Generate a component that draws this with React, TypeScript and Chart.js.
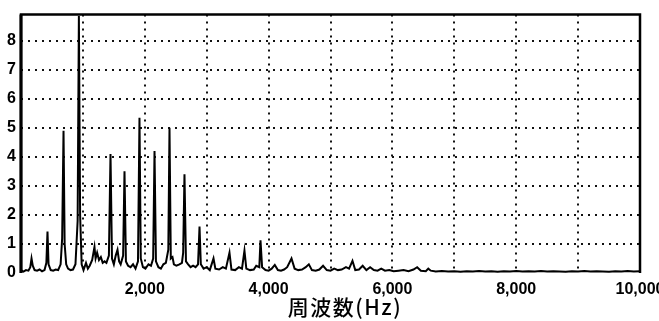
import React, { useEffect, useRef } from 'react';
import { Chart, registerables } from 'chart.js';

Chart.register(...registerables);

// Frequency (Hz) and amplitude
const FREQ_HZ = [
  0, 40, 80, 120, 150, 170, 190, 220, 260, 300, 340, 380, 410, 428, 445, 480, 520, 560, 600, 640,
  665, 687, 705, 730, 760, 800, 840, 880, 915, 935, 955, 980, 1010, 1050, 1080, 1110, 1150, 1187, 1205, 1230,
  1260, 1290, 1320, 1350, 1380, 1420, 1446, 1470, 1500, 1530, 1559, 1585, 1610, 1650, 1672, 1695, 1730, 1770, 1810, 1850,
  1890, 1914, 1935, 1970, 2010, 2060, 2100, 2135, 2157, 2180, 2220, 2260, 2300, 2340, 2380, 2399, 2420, 2447, 2470, 2510,
  2560, 2600, 2620, 2641, 2665, 2700, 2740, 2780, 2820, 2860, 2884, 2905, 2950, 3000, 3050, 3110, 3140, 3200, 3260, 3310,
  3368, 3400, 3460, 3520, 3570, 3610, 3640, 3700, 3760, 3800, 3850, 3869, 3895, 3950, 4000, 4050, 4100, 4150, 4200, 4250,
  4300, 4370, 4420, 4480, 4540, 4600, 4650, 4700, 4760, 4820, 4880, 4940, 5000, 5060, 5120, 5180, 5250, 5300, 5355, 5400,
  5460, 5520, 5580, 5640, 5700, 5760, 5820, 5880, 5950, 6020, 6100, 6180, 6260, 6340, 6400, 6460, 6540, 6580, 6620, 6700,
  6800, 6900, 7000, 7100, 7200, 7300, 7400, 7500, 7600, 7700, 7800, 7900, 8000, 8100, 8200, 8300, 8400, 8500, 8600, 8700,
  8800, 8900, 9000, 9100, 9200, 9300, 9400, 9500, 9600, 9700, 9800, 9900, 10000,
];

const AMPLITUDE = [
  0.1, 0.05, 0.1, 0.08, 0.2, 0.5, 0.25, 0.1, 0.08, 0.12, 0.06, 0.1, 0.35, 1.43, 0.3, 0.1, 0.08, 0.12, 0.1, 0.3,
  1.2, 4.9, 1.0, 0.3, 0.15, 0.1, 0.12, 0.3, 1.8, 8.85, 2.0, 0.3, 0.1, 0.35, 0.15, 0.25, 0.45, 0.9, 0.5, 0.7,
  0.45, 0.55, 0.35, 0.4, 0.35, 0.6, 4.1, 0.5, 0.3, 0.6, 0.8, 0.4, 0.3, 0.6, 3.5, 0.4, 0.25, 0.2, 0.3, 0.15,
  0.4, 5.35, 0.5, 0.2, 0.15, 0.3, 0.25, 0.5, 4.2, 0.4, 0.2, 0.15, 0.3, 0.35, 0.8, 5.0, 0.5, 0.55, 0.3, 0.25,
  0.3, 0.35, 0.7, 3.4, 0.4, 0.3, 0.2, 0.25, 0.2, 0.3, 1.6, 0.3, 0.15, 0.2, 0.1, 0.5, 0.15, 0.12, 0.2, 0.15,
  0.7, 0.12, 0.1, 0.2, 0.15, 0.77, 0.15, 0.1, 0.12, 0.25, 0.2, 1.13, 0.2, 0.1, 0.08, 0.15, 0.28, 0.1, 0.08, 0.12,
  0.2, 0.5, 0.15, 0.1, 0.12, 0.2, 0.3, 0.1, 0.08, 0.12, 0.25, 0.1, 0.08, 0.15, 0.1, 0.12, 0.2, 0.15, 0.42, 0.1,
  0.12, 0.25, 0.1, 0.2, 0.1, 0.08, 0.15, 0.08, 0.1, 0.06, 0.08, 0.1, 0.06, 0.12, 0.2, 0.08, 0.06, 0.15, 0.08, 0.05,
  0.07, 0.05, 0.06, 0.04, 0.06, 0.05, 0.07, 0.05, 0.06, 0.04, 0.06, 0.05, 0.07, 0.05, 0.06, 0.05, 0.07, 0.05, 0.06, 0.05,
  0.04, 0.06, 0.05, 0.07, 0.05, 0.06, 0.05, 0.04, 0.06, 0.05, 0.07, 0.05, 0.06,
];

const Y_TICKS = [0, 1, 2, 3, 4, 5, 6, 7, 8];
const X_LABEL_VALUES = [2000, 4000, 6000, 8000, 10000];
const X_TITLE = '周波数(Hz)';

const framePlugin = {
  id: 'frame',
  afterDraw(chart: any) {
    const { ctx, chartArea } = chart;
    const { left, top, right, bottom } = chartArea;
    ctx.save();
    ctx.strokeStyle = '#000';
    ctx.lineWidth = 2.5;
    ctx.beginPath();
    ctx.moveTo(left, bottom);
    ctx.lineTo(left, top);
    ctx.lineTo(right, top);
    ctx.lineTo(right, bottom);
    ctx.stroke();
    ctx.lineWidth = 3;
    ctx.beginPath();
    ctx.moveTo(left, top);
    ctx.lineTo(left, bottom);
    ctx.stroke();
    // axis title
    ctx.fillStyle = '#000';
    ctx.font = '500 21px "Noto Sans CJK JP", "Noto Sans", sans-serif';
    ctx.textAlign = 'center';
    ctx.textBaseline = 'middle';
    try { (ctx as any).letterSpacing = '1.5px'; } catch (e) {}
    ctx.fillText(X_TITLE, 345, 307);
    ctx.restore();
  },
};

export default function App() {
  const ref = useRef<HTMLCanvasElement | null>(null);

  useEffect(() => {
    document.body.style.margin = '0';
    const canvas = ref.current;
    if (!canvas) return;
    const points = FREQ_HZ.map((f, i) => ({ x: f, y: AMPLITUDE[i] }));
    const chart = new Chart(canvas, {
      type: 'line',
      data: {
        datasets: [
          {
            data: points,
            borderColor: '#000',
            borderWidth: 2,
            pointRadius: 0,
            tension: 0,
            fill: false,
          },
        ],
      },
      options: {
        responsive: false,
        animation: false,
        devicePixelRatio: 1,
        layout: { padding: { left: 0, top: 7, right: 19, bottom: 0 } },
        plugins: {
          legend: { display: false },
          tooltip: { enabled: false },
          title: { display: false },
        },
        scales: {
          x: {
            type: 'linear',
            min: 0,
            max: 10000,
            afterFit(scale: any) {
              scale.height = 48;
              scale.paddingLeft = 0;
              scale.paddingRight = 0;
            },
            afterBuildTicks(scale: any) {
              const t = [];
              for (let v = 0; v <= 10000; v += 1000) t.push({ value: v });
              scale.ticks = t;
            },
            ticks: {
              autoSkip: false,
              maxRotation: 0,
              minRotation: 0,
              padding: 7,
              color: '#000',
              font: { family: '"Liberation Sans", Arial, sans-serif', size: 16, weight: 'bold' },
              callback: (v: any) =>
                X_LABEL_VALUES.includes(Number(v)) ? Number(v).toLocaleString('en-US') : '',
            },
            grid: {
              color: (c: any) => (c.tick && (c.tick.value === 0 || c.tick.value === 10000) ? 'rgba(0,0,0,0)' : '#111'),
              lineWidth: 2,
              drawTicks: false,
            },
            border: { display: false, dash: [2, 5] },
          },
          y: {
            min: 0,
            max: 8.9,
            afterFit(scale: any) {
              scale.width = 21;
            },
            afterBuildTicks(scale: any) {
              scale.ticks = Y_TICKS.map((v) => ({ value: v }));
            },
            ticks: {
              padding: 5,
              color: '#000',
              font: { family: '"Liberation Sans", Arial, sans-serif', size: 16, weight: 'bold' },
              callback: (v: any) => String(v),
            },
            grid: {
              color: (c: any) => (c.tick && c.tick.value === 0 ? 'rgba(0,0,0,0)' : '#111'),
              lineWidth: 2,
              drawTicks: false,
            },
            border: { display: false, dash: [2, 5] },
          },
        },
      },
      plugins: [framePlugin],
    });
    return () => chart.destroy();
  }, []);

  return (
    <div style={{ width: 659, height: 321, background: '#fff' }}>
      <canvas ref={ref} width={659} height={321} style={{ display: 'block' }} />
    </div>
  );
}
